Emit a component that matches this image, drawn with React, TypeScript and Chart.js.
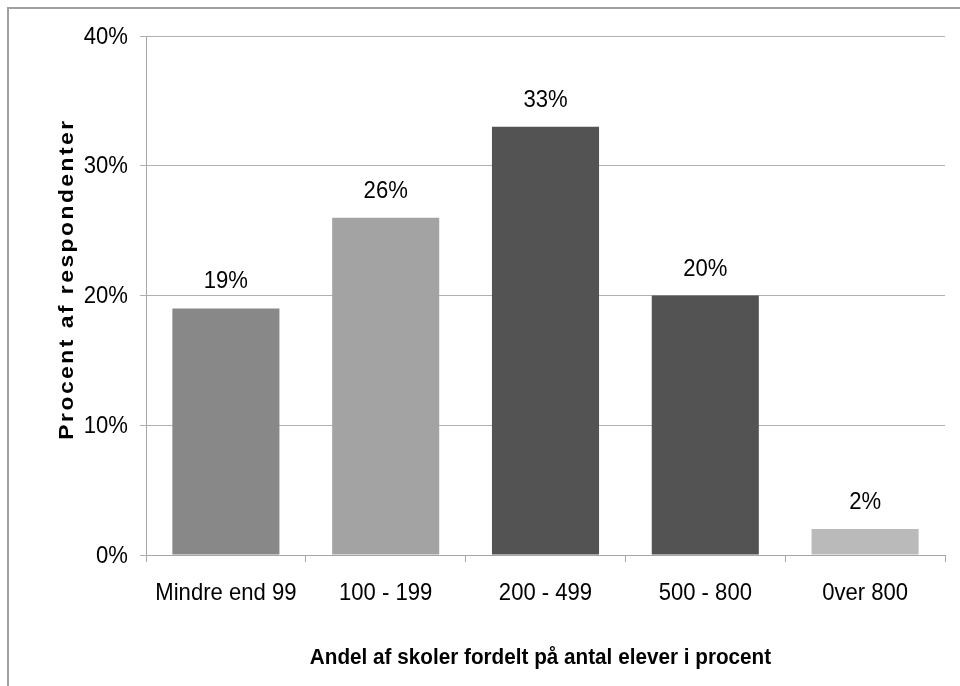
import React, { useEffect, useRef } from "react";
import { Chart, registerables } from "chart.js";

Chart.register(...registerables);

const categories = ["Mindre end 99", "100 - 199", "200 - 499", "500 - 800", "0ver 800"];
const values = [19, 26, 33, 20, 2];
const barColors = ["#888888", "#a3a3a3", "#535353", "#535353", "#bababa"];
const yTicks = [0, 10, 20, 30, 40];
const yTitle = "Procent af respondenter";
const xTitle = "Andel af skoler fordelt på antal elever i procent";

const FONT = "'Liberation Sans', Arial, sans-serif";
const SX = 0.92;

function squeezedText(ctx: any, text: string, x: number, y: number) {
  ctx.save();
  ctx.translate(x, y);
  ctx.scale(SX, 1);
  ctx.fillText(text, 0, 0);
  ctx.restore();
}

const labelPlugin = {
  id: "customLabels",
  afterDatasetsDraw(chart: any) {
    const ctx = chart.ctx;
    const meta = chart.getDatasetMeta(0);
    ctx.save();
    ctx.font = `24px ${FONT}`;
    ctx.fillStyle = "#000";
    ctx.textAlign = "center";
    ctx.textBaseline = "alphabetic";
    meta.data.forEach((bar: any, i: number) => {
      squeezedText(ctx, values[i] + "%", bar.x, bar.y - 20);
    });
    ctx.restore();
  },
  afterDraw(chart: any) {
    const ctx = chart.ctx;
    const area = chart.chartArea;
    const xs = chart.scales.x;
    const ys = chart.scales.y;
    ctx.save();
    ctx.fillStyle = "#000";
    ctx.font = `24px ${FONT}`;
    // y tick labels
    ctx.textAlign = "right";
    ctx.textBaseline = "middle";
    ys.ticks.forEach((t: any) => {
      const y = ys.getPixelForValue(t.value);
      squeezedText(ctx, t.value + "%", 128, y + 1);
    });
    // x tick labels
    ctx.textAlign = "center";
    ctx.textBaseline = "alphabetic";
    categories.forEach((c, i) => {
      squeezedText(ctx, c, xs.getPixelForTick(i), 600);
    });
    // x title
    ctx.font = `bold 22.5px ${FONT}`;
    squeezedText(ctx, xTitle, (area.left + area.right) / 2 - 5, 664);
    // y title
    ctx.translate(73, 279);
    ctx.rotate(-Math.PI / 2);
    ctx.scale(1 / SX, 1);
    ctx.font = `bold 21px ${FONT}`;
    (ctx as any).letterSpacing = "2.3px";
    ctx.textAlign = "center";
    ctx.fillText(yTitle, 0, 0);
    ctx.restore();
  },
};

export default function App() {
  const ref = useRef<HTMLCanvasElement>(null);
  useEffect(() => {
    if (!ref.current) return;
    const chart = new Chart(ref.current, {
      type: "bar",
      data: {
        labels: categories,
        datasets: [
          {
            data: values,
            backgroundColor: barColors,
            borderWidth: 0,
            categoryPercentage: 0.67,
            barPercentage: 1,
          },
        ],
      },
      options: {
        animation: false,
        responsive: false,
        maintainAspectRatio: false,
        layout: { padding: { left: 0, right: 15, top: 36, bottom: 0 } },
        plugins: { legend: { display: false }, tooltip: { enabled: false } },
        scales: {
          x: {
            afterFit(scale: any) {
              scale.height = 131;
            },
            grid: {
              drawOnChartArea: false,
              drawTicks: true,
              tickLength: 7,
              color: "#a6a6a6",
              offset: true,
            },
            border: { color: "#a6a6a6", width: 1 },
            ticks: { display: false },
          },
          y: {
            min: 0,
            max: 40,
            afterFit(scale: any) {
              scale.width = 146;
            },
            afterBuildTicks(scale: any) {
              scale.ticks = yTicks.map((v) => ({ value: v }));
            },
            grid: { color: "#b0b0b0", tickLength: 6 },
            border: { color: "#a6a6a6", width: 1 },
            ticks: { display: false },
          },
        },
      },
      plugins: [labelPlugin],
    });
    return () => chart.destroy();
  }, []);
  return (
    <div style={{ position: "absolute", left: 0, top: 0, width: 960, height: 686, background: "#fff" }}>
      <canvas ref={ref} width={960} height={686} style={{ position: "absolute", left: 0, top: 0 }} />
      <div
        style={{
          position: "absolute",
          left: 7,
          top: 7,
          width: 953,
          height: 679,
          borderTop: "2px solid #a0a0a0",
          borderLeft: "2px solid #a0a0a0",
          boxSizing: "border-box",
          pointerEvents: "none",
        }}
      />
    </div>
  );
}
